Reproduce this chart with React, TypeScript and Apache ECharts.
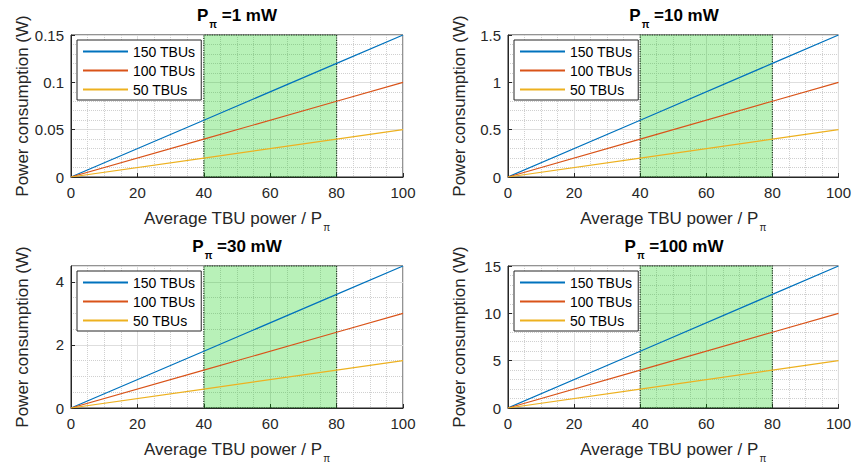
import React, { useEffect, useRef } from 'react';
import * as echarts from 'echarts';

const X_VALUES = [0, 40, 80, 100];
const SERIES_NAMES = ['150 TBUs', '100 TBUs', '50 TBUs'];
const SERIES_COLORS = ['#0072BD', '#D95319', '#EDB120'];
const PANEL_LABELS = ['=1 mW', '=10 mW', '=30 mW', '=100 mW'];
const X_TICKS = [0, 20, 40, 60, 80, 100];
const Y_MAX = [0.15, 1.5, 4.5, 15];
const Y_STEP = [0.05, 0.5, 2, 5];
const Y_MINOR = [5, 5, 4, 5];
const HIGHLIGHT = [40, 80];

const P1_150 = [0, 0.06, 0.12, 0.15];
const P1_100 = [0, 0.04, 0.08, 0.1];
const P1_50 = [0, 0.02, 0.04, 0.05];
const P10_150 = [0, 0.6, 1.2, 1.5];
const P10_100 = [0, 0.4, 0.8, 1.0];
const P10_50 = [0, 0.2, 0.4, 0.5];
const P30_150 = [0, 1.8, 3.6, 4.5];
const P30_100 = [0, 1.2, 2.4, 3.0];
const P30_50 = [0, 0.6, 1.2, 1.5];
const P100_150 = [0, 6, 12, 15];
const P100_100 = [0, 4, 8, 10];
const P100_50 = [0, 2, 4, 5];

const PANEL_DATA = [
  [P1_150, P1_100, P1_50],
  [P10_150, P10_100, P10_50],
  [P30_150, P30_100, P30_50],
  [P100_150, P100_100, P100_50],
];

const FONT = '"Liberation Sans", Arial, Helvetica, sans-serif';
const AXIS_COLOR = '#262626';
const GRID_LEFT = [71, 508, 71, 508];
const GRID_TOP = [35, 35, 266, 266];
const GRID_W = 332;
const GRID_H = 142;

function buildOption() {
  const grid: any[] = [];
  const xAxis: any[] = [];
  const yAxis: any[] = [];
  const series: any[] = [];
  const legend: any[] = [];
  const graphic: any[] = [];

  for (let i = 0; i < 4; i++) {
    grid.push({
      left: GRID_LEFT[i],
      top: GRID_TOP[i],
      width: GRID_W,
      height: GRID_H,
      show: true,
      borderColor: AXIS_COLOR,
      borderWidth: 1,
      backgroundColor: 'transparent',
      containLabel: false,
    });
    xAxis.push({
      type: 'value',
      gridIndex: i,
      min: X_TICKS[0],
      max: X_TICKS[X_TICKS.length - 1],
      interval: X_TICKS[1] - X_TICKS[0],
      name: 'Average TBU power / P{s|π}',
      nameLocation: 'middle',
      nameGap: 27,
      nameTextStyle: {
        fontSize: 17,
        color: AXIS_COLOR,
        fontFamily: FONT,
        rich: {
          s: { fontSize: 10, color: AXIS_COLOR, fontFamily: FONT, verticalAlign: 'bottom', padding: [18, 0, 0, 1] },
        },
      },
      axisLine: { show: true, lineStyle: { color: AXIS_COLOR, width: 1 } },
      axisTick: { show: true, inside: true, length: 4, lineStyle: { color: AXIS_COLOR } },
      axisLabel: { fontSize: 15, color: AXIS_COLOR, fontFamily: FONT, margin: 8 },
      splitLine: { show: true, lineStyle: { color: '#dedede', width: 1 } },
      minorTick: { show: false, splitNumber: 4 },
      minorSplitLine: { show: true, lineStyle: { color: '#d0d0d0', width: 1, type: 'dotted' } },
    });
    yAxis.push({
      type: 'value',
      gridIndex: i,
      min: 0,
      max: Y_MAX[i],
      interval: Y_STEP[i],
      name: 'Power consumption (W)',
      nameLocation: 'middle',
      nameGap: 40,
      nameTextStyle: { fontSize: 17, color: AXIS_COLOR, fontFamily: FONT },
      axisLine: { show: true, lineStyle: { color: AXIS_COLOR, width: 1 } },
      axisTick: { show: true, inside: true, length: 4, lineStyle: { color: AXIS_COLOR } },
      axisLabel: { fontSize: 15, color: AXIS_COLOR, fontFamily: FONT, margin: 7, showMaxLabel: i !== 2 },
      splitLine: { show: true, lineStyle: { color: '#dedede', width: 1 } },
      minorTick: { show: false, splitNumber: Y_MINOR[i] },
      minorSplitLine: { show: true, lineStyle: { color: '#d0d0d0', width: 1, type: 'dotted' } },
    });

    PANEL_DATA[i].forEach((vals, s) => {
      series.push({
        type: 'line',
        name: SERIES_NAMES[s],
        xAxisIndex: i,
        yAxisIndex: i,
        data: X_VALUES.map((x, k) => [x, vals[k]]),
        symbol: 'none',
        showSymbol: false,
        lineStyle: { width: 1.2, color: SERIES_COLORS[s] },
        itemStyle: { color: SERIES_COLORS[s] },
        z: 2,
        silent: true,
      });
    });

    series.push({
      type: 'line',
      name: 'highlight',
      xAxisIndex: i,
      yAxisIndex: i,
      data: [],
      z: 5,
      silent: true,
      markArea: {
        silent: true,
        itemStyle: {
          color: 'rgba(0,205,0,0.28)',
          borderColor: '#1e3a1e',
          borderWidth: 1.2,
          borderType: 'dotted',
        },
        data: [[{ xAxis: HIGHLIGHT[0], yAxis: 0 }, { xAxis: HIGHLIGHT[1], yAxis: Y_MAX[i] }]],
      },
    });

    legend.push({
      data: SERIES_NAMES,
      orient: 'vertical',
      left: GRID_LEFT[i] + 6,
      top: GRID_TOP[i] + 5,
      padding: [2, 6, 1, 6],
      itemGap: 0,
      itemWidth: 45,
      itemHeight: 2,
      icon: 'rect',
      backgroundColor: '#ffffff',
      borderColor: AXIS_COLOR,
      borderWidth: 1,
      borderRadius: 0,
      selectedMode: false,
      textStyle: { fontSize: 14, color: '#000', fontFamily: FONT, lineHeight: 19 },
      z: 10,
    });

    graphic.push({
      type: 'text',
      x: GRID_LEFT[i] + GRID_W / 2,
      y: GRID_TOP[i] - 20,
      z: 10,
      style: {
        text: '{b|P}{s|π}{b| ' + PANEL_LABELS[i] + '}',
        align: 'center',
        verticalAlign: 'middle',
        rich: {
          b: { fontSize: 17, fontWeight: 'bold', fontFamily: FONT, fill: '#000', color: '#000' },
          s: { fontSize: 10, fontWeight: 'bold', fontFamily: FONT, fill: '#000', color: '#000', verticalAlign: 'bottom', padding: [19, 0, 0, 1] },
        },
      },
    });
  }

  return {
    animation: false,
    backgroundColor: '#ffffff',
    grid,
    xAxis,
    yAxis,
    series,
    legend,
    graphic,
  };
}

export default function App() {
  const ref = useRef<HTMLDivElement>(null);
  useEffect(() => {
    if (!ref.current) return;
    const chart = echarts.init(ref.current, undefined, { renderer: 'svg' });
    chart.setOption(buildOption() as any);
    return () => chart.dispose();
  }, []);
  return (
    <div
      ref={ref}
      style={{ position: 'absolute', left: 0, top: 0, width: 854, height: 465, background: '#fff' }}
    />
  );
}
